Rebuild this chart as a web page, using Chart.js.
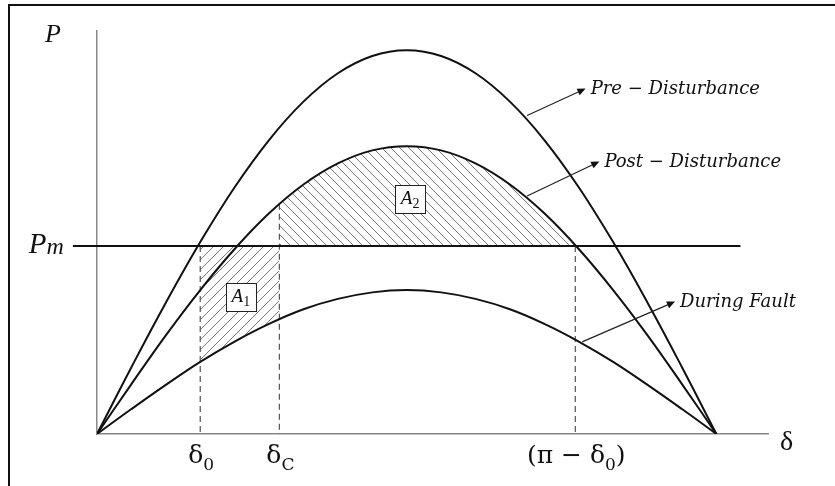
<!DOCTYPE html>
<html>
<head>
<meta charset="utf-8">
<script src="https://cdn.jsdelivr.net/npm/chart.js@4.4.1/dist/chart.umd.min.js"></script>
<style>
  html, body { margin: 0; padding: 0; background: #fff; }
  #wrap { width: 835px; height: 486px; position: relative; }
</style>
</head>
<body>
<div id="wrap"><canvas id="powerAngle"></canvas></div>
<script>
// Power-angle curves, sampled every 10 degrees of rotor angle
const deltaDeg = [0, 10, 20, 30, 40, 50, 60, 70, 80, 90, 100, 110, 120, 130, 140, 150, 160, 170, 180];
const preDisturbance = [0, 0.174, 0.342, 0.500, 0.643, 0.766, 0.866, 0.940, 0.985, 1.000,
  0.985, 0.940, 0.866, 0.766, 0.643, 0.500, 0.342, 0.174, 0];
const postDisturbance = [0, 0.130, 0.257, 0.375, 0.482, 0.575, 0.650, 0.705, 0.739, 0.750,
  0.739, 0.705, 0.650, 0.575, 0.482, 0.375, 0.257, 0.130, 0];
const duringFault = [0, 0.065, 0.128, 0.188, 0.241, 0.287, 0.325, 0.352, 0.369, 0.375,
  0.369, 0.352, 0.325, 0.287, 0.241, 0.188, 0.128, 0.065, 0];

// Mechanical input and the marked angles (δ0, δC, π − δ0)
const pmValue = 0.49;
const pmSpan = [-7, 187];
const angleMarks = [30, 53, 139];
const angleTops = [0.49, 0.60, 0.49];

const curveNames = ['Pre − Disturbance', 'Post − Disturbance', 'During Fault'];

function points(xs, ys) {
  return xs.map((x, i) => ({ x: x, y: ys[i] }));
}

function hatch(dir, s) {
  const c = document.createElement('canvas');
  c.width = s; c.height = s;
  const g = c.getContext('2d');
  g.strokeStyle = '#555';
  g.lineWidth = 0.8;
  g.beginPath();
  if (dir > 0) {
    g.moveTo(-1, s + 1); g.lineTo(s + 1, -1);
    g.moveTo(-1, 1); g.lineTo(1, -1);
    g.moveTo(s - 1, s + 1); g.lineTo(s + 1, s - 1);
  } else {
    g.moveTo(-1, -1); g.lineTo(s + 1, s + 1);
    g.moveTo(s - 1, -1); g.lineTo(s + 1, 1);
    g.moveTo(-1, s - 1); g.lineTo(1, s + 1);
  }
  g.stroke();
  return g.createPattern(c, 'repeat');
}

const curveStyle = {
  borderColor: '#111', borderWidth: 2, pointRadius: 0,
  tension: 0.4, fill: false, order: 1
};
const dashStyle = {
  borderColor: '#555', borderWidth: 1.2, borderDash: [6, 4],
  pointRadius: 0, tension: 0, fill: false, order: 2
};

const datasets = [
  Object.assign({ label: curveNames[0], data: points(deltaDeg, preDisturbance) }, curveStyle),
  Object.assign({ label: curveNames[1], data: points(deltaDeg, postDisturbance) }, curveStyle),
  Object.assign({ label: curveNames[2], data: points(deltaDeg, duringFault) }, curveStyle),
  {
    label: 'Pm', data: [{ x: pmSpan[0], y: pmValue }, { x: pmSpan[1], y: pmValue }],
    borderColor: '#111', borderWidth: 2, pointRadius: 0, tension: 0, fill: false, clip: false, order: 1
  },
  // accelerating area A1: between fault curve and Pm, δ0 → δC
  {
    label: 'A1', data: [{ x: angleMarks[0], y: pmValue }, { x: angleMarks[1], y: pmValue }],
    borderWidth: 0, pointRadius: 0, tension: 0,
    backgroundColor: hatch(1, 10), fill: { target: 2 }, order: 10
  },
  // decelerating area A2: between Pm and post curve, δC → π − δ0
  {
    label: 'A2', data: [{ x: angleMarks[1], y: pmValue }, { x: angleMarks[2], y: pmValue }],
    borderWidth: 0, pointRadius: 0, tension: 0,
    backgroundColor: hatch(-1, 9), fill: { target: 1 }, order: 10
  }
];
angleMarks.forEach((a, i) => {
  datasets.push(Object.assign({ label: 'mark' + i, data: [{ x: a, y: angleTops[i] }, { x: a, y: 0 }] }, dashStyle));
});

const calloutFont = 'italic 18px "DejaVu Serif"';
const callouts = [
  { text: curveNames[0], from: [125, 0.83], to: [142, 0.90] },
  { text: curveNames[1], from: [125, 0.62], to: [146, 0.71] },
  { text: curveNames[2], from: [141, 0.24], to: [168, 0.345] }
];
const areaBoxes = [
  { main: 'A', sub: '1', at: [41.8, 0.357] },
  { main: 'A', sub: '2', at: [91, 0.612] }
];
const tickParts = [
  [['δ', false], ['0', true]],
  [['δ', false], ['C', true]],
  [['(π − δ', false], ['0', true], [')', false]]
];

// text with subscript runs, anchored by alignment
function drawRuns(ctx, runs, x, y, size, subSize, align, style, fam, drop) {
  let w = 0;
  const fontOf = r => (r[1] ? '' : style + ' ') + (r[1] ? subSize : size) + 'px ' + fam;
  runs.forEach(r => {
    ctx.font = fontOf(r);
    w += ctx.measureText(r[0]).width;
  });
  let cx = align === 'center' ? x - w / 2 : align === 'right' ? x - w : x;
  ctx.textAlign = 'left';
  ctx.textBaseline = 'alphabetic';
  runs.forEach(r => {
    ctx.font = fontOf(r);
    ctx.fillText(r[0], cx, r[1] ? y + drop : y);
    cx += ctx.measureText(r[0]).width;
  });
  return w;
}

function arrow(ctx, x1, y1, x2, y2) {
  const ang = Math.atan2(y2 - y1, x2 - x1);
  const h = 9;
  ctx.beginPath();
  ctx.moveTo(x1, y1);
  ctx.lineTo(x2 - Math.cos(ang) * h * 0.7, y2 - Math.sin(ang) * h * 0.7);
  ctx.stroke();
  ctx.beginPath();
  ctx.moveTo(x2, y2);
  ctx.lineTo(x2 - h * Math.cos(ang - 0.42), y2 - h * Math.sin(ang - 0.42));
  ctx.lineTo(x2 - h * Math.cos(ang + 0.42), y2 - h * Math.sin(ang + 0.42));
  ctx.closePath();
  ctx.fill();
}

const labelsPlugin = {
  id: 'labels',
  beforeDraw(chart) {
    const ctx = chart.ctx;
    ctx.save();
    ctx.fillStyle = '#fff';
    ctx.fillRect(0, 0, chart.width, chart.height);
    ctx.strokeStyle = '#111';
    ctx.lineWidth = 2;
    ctx.strokeRect(9, 5, 840, 500);
    ctx.restore();
  },
  afterDraw(chart) {
    const ctx = chart.ctx;
    const xs = chart.scales.x, ys = chart.scales.y;
    const area = chart.chartArea;
    const serif = '"Liberation Serif"';
    ctx.save();
    ctx.fillStyle = '#111';
    ctx.strokeStyle = '#222';

    // axis names
    drawRuns(ctx, [['P', false]], area.left - 52, area.top + 11, 26, 20, 'left', 'italic', serif, 0);
    drawRuns(ctx, [['δ', false]], area.right + 12, area.bottom + 16, 28, 20, 'left', '', serif, 0);
    drawRuns(ctx, [['P', false], ['m', true]], xs.getPixelForValue(pmSpan[0]) - 9,
      ys.getPixelForValue(pmValue) + 7, 29, 'italic 24', 'right', 'italic', serif, 1);

    // angle labels below the axis
    angleMarks.forEach((a, i) => {
      drawRuns(ctx, tickParts[i], xs.getPixelForValue(a) + 1, area.bottom + 29, 25, 17, 'center', '', '"DejaVu Serif"', 7);
    });

    // boxed area names
    areaBoxes.forEach(b => {
      const cx = xs.getPixelForValue(b.at[0]), cy = ys.getPixelForValue(b.at[1]);
      ctx.fillStyle = '#fff';
      ctx.fillRect(cx - 15, cy - 14, 30, 28);
      ctx.lineWidth = 1;
      ctx.strokeStyle = '#222';
      ctx.strokeRect(Math.round(cx - 15) + 0.5, Math.round(cy - 14) + 0.5, 30, 28);
      ctx.fillStyle = '#111';
      drawRuns(ctx, [[b.main, false], [b.sub, true]], cx, cy + 5, 19, 14, 'center', 'italic', serif, 4);
    });

    // curve callouts
    ctx.lineWidth = 1.2;
    callouts.forEach(c => {
      const x1 = xs.getPixelForValue(c.from[0]), y1 = ys.getPixelForValue(c.from[1]);
      const x2 = xs.getPixelForValue(c.to[0]), y2 = ys.getPixelForValue(c.to[1]);
      arrow(ctx, x1, y1, x2, y2);
      ctx.font = calloutFont;
      ctx.textAlign = 'left';
      ctx.textBaseline = 'middle';
      ctx.fillText(c.text, x2 + 5, y2 + 1);
    });
    ctx.restore();
  }
};

new Chart(document.getElementById('powerAngle'), {
  type: 'line',
  data: { datasets: datasets },
  plugins: [labelsPlugin],
  options: {
    responsive: true,
    maintainAspectRatio: false,
    animation: false,
    layout: { padding: { left: 97, right: 67, top: 31, bottom: 52 } },
    plugins: { legend: { display: false }, tooltip: { enabled: false } },
    scales: {
      x: {
        type: 'linear', min: 0, max: 195,
        grid: { display: false, drawTicks: false },
        ticks: { display: false },
        border: { display: true, color: '#888', width: 1.5 }
      },
      y: {
        type: 'linear', min: 0, max: 1.05,
        grid: { display: false, drawTicks: false },
        ticks: { display: false },
        border: { display: true, color: '#888', width: 1.5 }
      }
    }
  }
});
</script>
</body>
</html>
